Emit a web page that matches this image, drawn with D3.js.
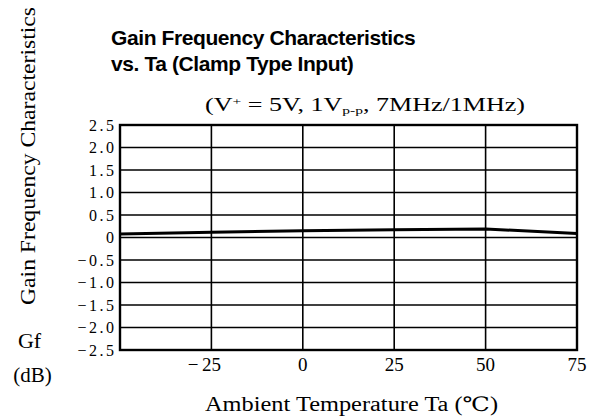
<!DOCTYPE html>
<html><head><meta charset="utf-8">
<script src="https://cdn.jsdelivr.net/npm/d3@7"></script>
<style>body{margin:0;background:#fff}svg{display:block}</style>
</head><body>
<script>
const temps = [-50, -25, 0, 25, 50, 75];
const gain = [0.08, 0.115, 0.15, 0.17, 0.19, 0.09];
const xTicks = [-25, 0, 25, 50, 75];
const yTicks = [2.5, 2.0, 1.5, 1.0, 0.5, 0, -0.5, -1.0, -1.5, -2.0, -2.5];
const yTickLabels = ["2.5","2.0","1.5","1.0","0.5","0","−0.5","−1.0","−1.5","−2.0","−2.5"];

const W = 597, H = 420;
const svg = d3.select("body").append("svg").attr("width", W).attr("height", H);
const m = {l:120, r:20, t:125, b:70};
const x = d3.scaleLinear().domain([-50, 75]).range([m.l, W - m.r]);
const y = d3.scaleLinear().domain([-2.5, 2.5]).range([H - m.b, m.t]);
const serif = "'Liberation Serif', 'DejaVu Serif', serif";

// grid
const g = svg.append("g");
g.selectAll("line.h").data(yTicks.slice(1, -1)).join("line")
  .attr("x1", x(-50)).attr("x2", x(75)).attr("y1", d => y(d)).attr("y2", d => y(d))
  .attr("stroke", "#000").attr("stroke-width", 1.6);
g.selectAll("line.v").data(xTicks.slice(0, -1)).join("line")
  .attr("y1", y(2.5)).attr("y2", y(-2.5)).attr("x1", d => x(d)).attr("x2", d => x(d))
  .attr("stroke", "#000").attr("stroke-width", 1.6);
g.append("rect").attr("x", x(-50)).attr("y", y(2.5))
  .attr("width", x(75) - x(-50)).attr("height", y(-2.5) - y(2.5))
  .attr("fill", "none").attr("stroke", "#000").attr("stroke-width", 2.4);

// data line
svg.append("path").datum(temps.map((t, i) => [t, gain[i]]))
  .attr("d", d3.line().x(d => x(d[0])).y(d => y(d[1])))
  .attr("fill", "none").attr("stroke", "#000").attr("stroke-width", 3);

// y tick labels
svg.selectAll("text.yt").data(yTicks).join("text")
  .attr("x", m.l - 6 + 2.5).attr("y", d => y(d) + 5.5)
  .attr("text-anchor", "end").attr("font-family", serif).attr("font-size", 16)
  .attr("letter-spacing", 2.5)
  .text((d, i) => yTickLabels[i]);

// x tick labels (digits centred on tick, minus sign hanging left)
const xt = svg.selectAll("g.xt").data(xTicks).join("g")
  .attr("transform", d => `translate(${x(d)},${y(-2.5) + 21})`);
xt.append("text").attr("text-anchor", "middle").attr("font-family", serif)
  .attr("font-size", 19).text(d => Math.abs(d));
xt.filter(d => d < 0).append("text").attr("x", -13).attr("text-anchor", "end")
  .attr("font-family", serif).attr("font-size", 19).text("−");

// titles
const tf = "'Liberation Sans', Arial, sans-serif";
svg.append("text").attr("x", 111).attr("y", 45).attr("font-family", tf)
  .attr("font-weight", "bold").attr("font-size", 21).attr("letter-spacing", -0.4)
  .text("Gain Frequency Characteristics");
svg.append("text").attr("x", 111).attr("y", 71).attr("font-family", tf)
  .attr("font-weight", "bold").attr("font-size", 21).attr("letter-spacing", -0.4)
  .text("vs. Ta (Clamp Type Input)");

// subtitle
const sub = svg.append("text").attr("x", 205).attr("y", 110.5).attr("font-family", serif)
  .attr("font-size", 18.5).attr("textLength", 320).attr("lengthAdjust", "spacingAndGlyphs");
sub.append("tspan").text("(V");
sub.append("tspan").attr("font-size", 11).attr("dy", -6).text("+");
sub.append("tspan").attr("dy", 6).text(" = 5V,  1V");
sub.append("tspan").attr("font-size", 11).attr("dy", 3).text("p-p");
sub.append("tspan").attr("dy", -3).text(",  7MHz/1MHz)");

// y axis title (rotated)
svg.append("text").attr("transform", "translate(35,305) rotate(-90)")
  .attr("font-family", serif).attr("font-size", 20.5)
  .attr("textLength", 298).attr("lengthAdjust", "spacingAndGlyphs")
  .text("Gain Frequency Characteristics");
svg.append("text").attr("x", 29.5).attr("y", 348).attr("text-anchor", "middle")
  .attr("font-family", serif).attr("font-size", 22).text("Gf");
svg.append("text").attr("x", 32.5).attr("y", 382).attr("text-anchor", "middle")
  .attr("font-family", serif).attr("font-size", 21).text("(dB)");

// x axis title
svg.append("text").attr("x", 205).attr("y", 411)
  .attr("font-family", serif).attr("font-size", 20)
  .attr("textLength", 293).attr("lengthAdjust", "spacingAndGlyphs")
  .text("Ambient Temperature Ta (℃)");
</script>
</body></html>
